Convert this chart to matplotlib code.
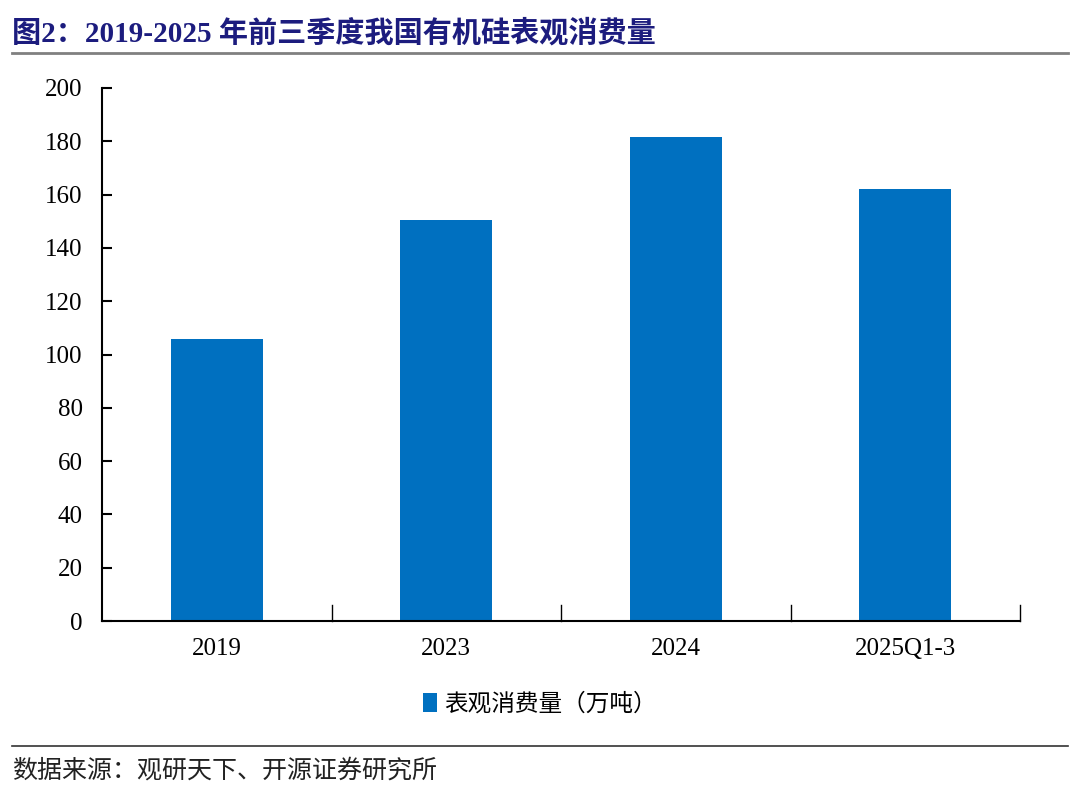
import matplotlib
matplotlib.use("Agg")
import matplotlib.pyplot as plt
from matplotlib.lines import Line2D
from matplotlib.patches import Patch

categories = ["2019", "2023", "2024", "2025Q1-3"]
values = [106, 150.5, 181.6, 162]
yticks = [0, 20, 40, 60, 80, 100, 120, 140, 160, 180, 200]
series_name = "表观消费量（万吨）"
title = "图2：2019-2025 年前三季度我国有机硅表观消费量"
source = "数据来源：观研天下、开源证券研究所"

W, H = 1080, 788
fig = plt.figure(figsize=(W / 100, H / 100), dpi=100)
ax = fig.add_axes([102 / W, 1 - 621 / H, (1020 - 102) / W, (621 - 88) / H])

bar_color = "#0070C0"
x = list(range(len(categories)))
ax.bar(x, values, width=0.4, color=bar_color)
ax.set_xlim(-0.5, len(categories) - 0.5)
ax.set_ylim(0, 200)
ax.set_yticks(yticks)
ax.set_yticklabels([str(t) for t in yticks], fontsize=18, family="Liberation Serif")
ax.set_xticks(x)
ax.set_xticklabels(categories, fontsize=18, family="Liberation Serif")
ax.tick_params(axis="x", length=0, pad=12)
ax.tick_params(axis="y", direction="in", length=7, width=1.5, pad=14)
for b in [0.5, 1.5, 2.5, 3.5]:
    ax.plot([b, b], [0, 200 * 16 / 533], color="black", lw=1, clip_on=False)
ax.spines["top"].set_visible(False)
ax.spines["right"].set_visible(False)
ax.spines["left"].set_linewidth(1.5)
ax.spines["bottom"].set_linewidth(1.5)

# legend
leg = fig.legend(handles=[Patch(facecolor=bar_color, label=series_name)],
                 loc="center", bbox_to_anchor=(540 / W, 1 - 704 / H), frameon=False,
                 prop={"family": ["Noto Sans CJK SC"], "size": 17},
                 handlelength=0.6, handleheight=0.85, handletextpad=0.3)

# title
fig.text(12 / W, 1 - 33 / H, title, fontsize=21, fontweight="bold", color="#1C1C7E",
         family=["Liberation Serif", "Noto Sans CJK SC"], va="center", ha="left")
fig.add_artist(Line2D([12 / W, 1068 / W], [1 - 53 / H, 1 - 53 / H], color="#808080", lw=2))

# footer
fig.add_artist(Line2D([12 / W, 1068 / W], [1 - 746 / H, 1 - 746 / H], color="#333333", lw=1.2))
fig.text(12 / W, 1 - 771 / H, source, fontsize=18, family=["Noto Sans CJK SC"],
         va="center", ha="left", color="#222222")

fig.savefig("out.png", dpi=100)
